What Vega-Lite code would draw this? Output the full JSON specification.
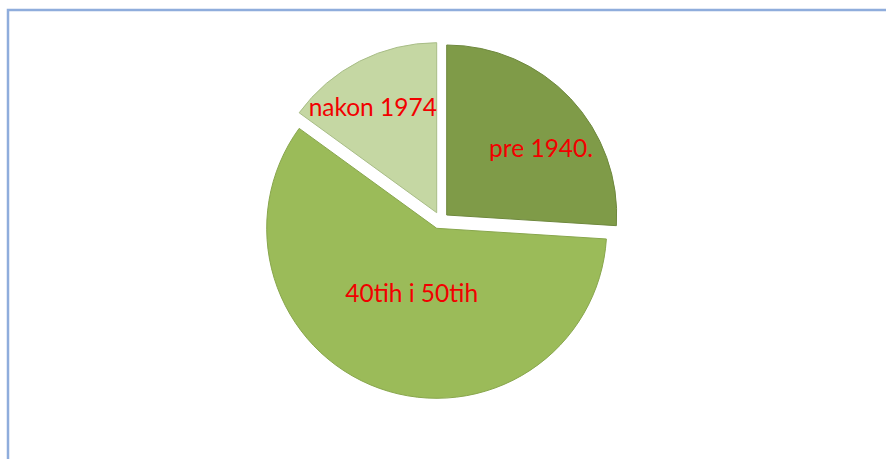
{
  "$schema": "https://vega.github.io/schema/vega-lite/v6.json",
  "width": 898,
  "height": 469,
  "autosize": {"type": "none"},
  "padding": {"left": 8, "top": 10, "right": -20, "bottom": -20},
  "background": "white",
  "view": {"stroke": "#8FADDC", "strokeWidth": 2.5, "fill": "white"},
  "data": {
    "values": [
      {"k": "pre 1940.", "v": 26, "o": 1},
      {"k": "40tih i 50tih", "v": 59, "o": 2},
      {"k": "nakon 1974", "v": 15, "o": 3}
    ]
  },
  "encoding": {
    "theta": {"field": "v", "type": "quantitative", "stack": true},
    "order": {"field": "o", "type": "quantitative"},
    "color": {
      "field": "k", "type": "nominal",
      "scale": {"domain": ["pre 1940.", "40tih i 50tih", "nakon 1974"], "range": ["#7F9B48", "#9BBB59", "#C5D7A3"]},
      "legend": null
    },
    "stroke": {
      "field": "k", "type": "nominal",
      "scale": {"domain": ["pre 1940.", "40tih i 50tih", "nakon 1974"], "range": ["#6E883D", "#88A64C", "#A8BD86"]},
      "legend": null
    }
  },
  "layer": [
    {
      "mark": {"type": "arc", "radius": 170, "xOffset": -20.3, "yOffset": -16.2, "strokeWidth": 1},
      "encoding": {"opacity": {"condition": {"test": "datum.k === '40tih i 50tih'", "value": 1}, "value": 0}}
    },
    {
      "mark": {"type": "arc", "radius": 170, "xOffset": -10.3, "yOffset": -29.5, "strokeWidth": 1},
      "encoding": {"opacity": {"condition": {"test": "datum.k === 'pre 1940.'", "value": 1}, "value": 0}}
    },
    {
      "mark": {"type": "arc", "radius": 170, "xOffset": -20.3, "yOffset": -31.8, "strokeWidth": 1},
      "encoding": {"opacity": {"condition": {"test": "datum.k === 'nakon 1974'", "value": 1}, "value": 0}}
    },
    {
      "mark": {"type": "text", "radius": 113, "xOffset": -10.3, "yOffset": -29.5, "dx": 12, "dy": 12, "font": "Lato", "fontSize": 24.5, "align": "center", "baseline": "middle"},
      "encoding": {
        "text": {"condition": {"test": "datum.k === 'pre 1940.'", "field": "k"}, "value": ""},
        "color": {"value": "#F20000"},
        "stroke": {"value": null}
      }
    },
    {
      "mark": {"type": "text", "radius": 121, "xOffset": -20.3, "yOffset": -31.8, "dx": -9, "dy": 4, "font": "Lato", "fontSize": 24.5, "align": "center", "baseline": "middle"},
      "encoding": {
        "text": {"condition": {"test": "datum.k === 'nakon 1974'", "field": "k"}, "value": ""},
        "color": {"value": "#F20000"},
        "stroke": {"value": null}
      }
    },
    {
      "mark": {"type": "text", "radius": 71, "xOffset": -20.3, "yOffset": -16.2, "dx": -1, "dy": 0, "font": "Lato", "fontSize": 24.5, "align": "center", "baseline": "middle"},
      "encoding": {
        "text": {"condition": {"test": "datum.k === '40tih i 50tih'", "field": "k"}, "value": ""},
        "color": {"value": "#F20000"},
        "stroke": {"value": null}
      }
    }
  ]
}
